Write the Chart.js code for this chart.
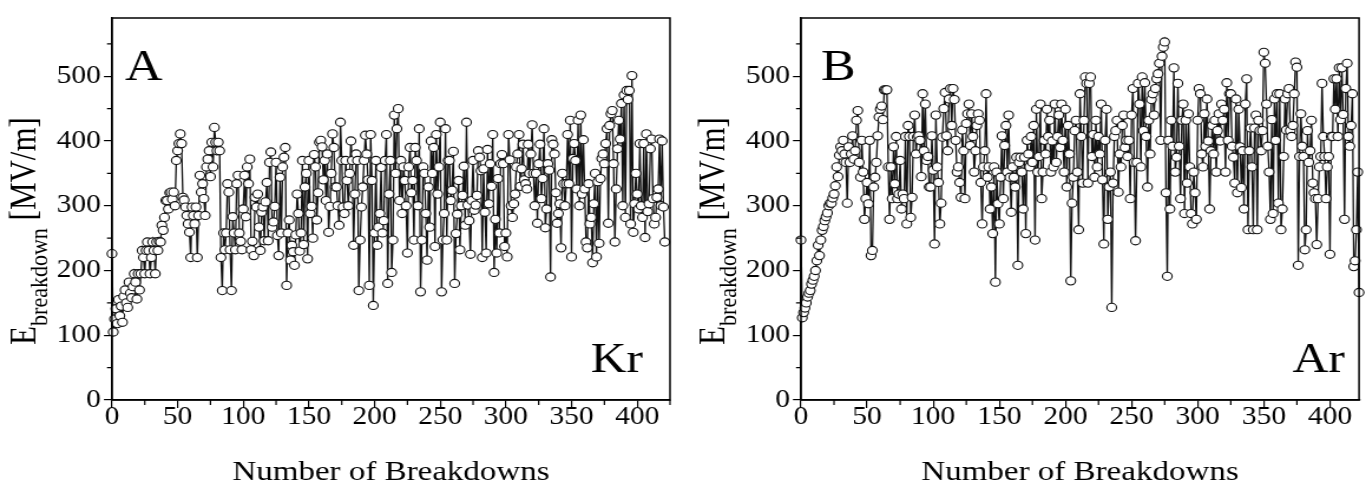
<!DOCTYPE html>
<html>
<head>
<meta charset="utf-8">
<script src="https://cdn.jsdelivr.net/npm/chart.js@4.4.1/dist/chart.umd.min.js"></script>
<style>
  html, body { margin: 0; padding: 0; background: #fff; }
  body { width: 1366px; height: 491px; position: relative; overflow: hidden; }
  .panel { position: absolute; top: 0; width: 579px; height: 491px; transform: scaleX(1.17962); transform-origin: 0 0; }
  #panelA { left: 0; }
  #panelB { left: 683px; }
</style>
</head>
<body>
<div class="panel" id="panelA"><canvas id="chartA"></canvas></div>
<div class="panel" id="panelB"><canvas id="chartB"></canvas></div>
<script>
// breakdown field per breakdown number (index = breakdown number)
const krValues = [
  226,105,125,141,118,155,130,145,120,160,
  170,150,143,182,165,158,175,195,182,156,
  195,170,195,231,220,195,231,244,231,195,
  220,244,231,195,244,231,245,244,270,262,
  282,308,308,295,320,321,310,321,300,370,
  385,396,411,396,313,309,298,285,272,259,
  220,298,285,272,298,220,285,347,321,334,
  311,285,360,372,385,345,398,360,421,398,385,
  398,385,220,169,258,232,258,334,321,232,
  169,283,258,232,334,347,258,245,232,295,
  347,283,360,334,372,232,245,223,313,298,
  318,267,231,290,298,246,306,336,246,367,
  383,267,275,299,367,254,223,344,258,360,
  375,390,177,258,278,216,239,229,208,255,
  318,288,230,258,370,240,329,350,218,370,
  288,299,250,379,360,278,320,398,401,391,
  340,370,308,380,259,299,350,411,390,329,
  329,300,270,429,370,298,288,370,339,300,
  350,400,370,239,318,380,370,169,247,298,
  329,370,409,380,340,177,410,339,146,258,
  370,239,267,288,359,258,277,370,410,180,
  318,370,197,247,440,350,419,450,308,370,
  288,360,339,300,227,360,390,320,339,247,
  390,370,300,419,167,247,360,350,288,216,
  329,267,400,350,390,237,410,318,360,429,
  167,247,288,419,247,370,
  370,308,324,384,180,257,287,339,232,300,
  316,361,270,429,301,277,225,308,370,293,
  301,316,385,375,354,220,357,290,227,387,
  303,365,330,410,197,279,227,342,258,365,
  379,365,237,258,221,410,371,300,282,303,
  318,360,380,410,330,357,395,340,334,326,
  395,350,380,425,350,300,350,273,365,395,
  311,342,419,266,295,365,355,190,402,395,
  380,320,273,288,303,235,
  350,334,300,334,410,334,432,221,373,396,
  370,326,432,300,440,318,402,326,244,235,
  334,272,282,212,303,350,221,337,242,342,
  373,380,365,396,419,273,424,442,447,365,
  244,326,388,432,403,458,300,471,282,478,
  464,478,272,501,259,303,350,318,295,396,
  300,282,396,251,411,291,303,388,403,311,
  272,282,313,326,403,300,400,298,244
];

const arValues = [
  247,127,135,142,150,159,165,169,179,185,
  191,200,215,239,223,247,262,268,277,283,
  289,300,304,304,312,318,331,360,345,378,
  391,385,401,380,367,304,391,367,380,408,
  372,385,432,447,367,344,401,352,279,311,
  336,303,401,223,231,329,344,367,408,437,
  449,454,433,479,479,479,360,279,360,311,
  391,334,407,311,318,370,295,318,311,407,
  272,424,407,282,313,407,
  440,380,406,408,401,345,473,385,457,370,
  376,329,329,408,355,241,440,360,336,272,
  304,406,450,475,408,385,465,481,424,481,
  464,401,352,360,336,313,417,385,311,427,
  442,457,393,442,407,352,385,424,442,432,
  336,272,360,385,473,344,360,295,329,257,
  360,182,352,303,272,344,408,311,393,424,
  352,440,344,290,360,344,329,375,208,367,
  375,352,295,375,257,
  401,380,360,407,367,424,247,449,352,376,
  457,311,352,401,380,449,407,432,352,400,
  360,457,367,407,440,390,457,401,352,449,
  329,424,380,184,304,344,416,432,352,263,
  473,407,335,432,499,489,335,489,499,376,
  410,344,432,360,407,380,457,340,241,401,
  449,279,329,352,143,335,407,416,432,321,
  380,360,424,440,390,401,376,401,311,440,
  481,367,246,367,489,457,
  360,499,416,490,407,329,432,380,464,473,
  440,481,496,504,520,401,531,545,553,320,
  191,401,295,432,392,513,352,375,489,392,
  311,432,457,288,432,335,442,360,288,272,
  352,320,279,432,481,473,380,360,442,392,
  465,400,295,385,424,380,432,352,416,442,
  400,457,432,449,352,490,401,473,473,392,
  375,335,465,320,449,391,328,385,295,457,
  496,263,385,420,360,
  263,420,440,263,432,416,385,416,537,520,
  457,392,352,279,433,288,465,401,473,304,
  473,263,295,376,465,417,473,481,416,407,
  424,473,522,514,208,376,442,392,376,232,
  263,416,367,385,432,335,320,311,240,311,
  360,376,489,407,376,311,360,376,225,407,
  407,496,449,496,407,513,433,513,441,279,
  481,520,407,392,424,473,206,215,263,352,
  166
];

const xTickValues = [0, 50, 100, 150, 200, 250, 300, 350, 400];
const yTickValues = [0, 100, 200, 300, 400, 500];

const serif = '"Liberation Serif", "Times New Roman", serif';
const tickFont = { family: serif, size: 25, lineHeight: 1 };

function decorPlugin(letter, letterOffset, gas, gasOffset) {
    return {
        id: 'decor',
        afterDraw(chart) {
            const ctx = chart.ctx;
            const a = chart.chartArea;
            const x = chart.scales.x;
            const y = chart.scales.y;
            ctx.save();
            ctx.strokeStyle = '#000';
            ctx.lineWidth = 1.5;
            ctx.strokeRect(a.left, a.top, a.right - a.left, a.bottom - a.top);

            // minor ticks
            ctx.lineWidth = 1.2;
            ctx.beginPath();
            for (let v = 25; v <= x.max + 0.5; v += 50) {
                const p = x.getPixelForValue(v);
                ctx.moveTo(p, a.bottom);
                ctx.lineTo(p, a.bottom + 5);
            }
            for (let v = 50; v < y.max; v += 100) {
                const p = y.getPixelForValue(v);
                ctx.moveTo(a.left, p);
                ctx.lineTo(a.left - 4.2, p);
            }
            ctx.stroke();

            ctx.fillStyle = '#000';
            ctx.textBaseline = 'alphabetic';

            ctx.font = '28px ' + serif;
            ctx.textAlign = 'center';
            ctx.fillText('Number of Breakdowns', (a.left + a.right) / 2, 480);

            ctx.font = '44px ' + serif;
            ctx.textAlign = 'left';
            ctx.fillText(letter, a.left + letterOffset, 80);
            ctx.font = '42px ' + serif;
            ctx.textAlign = 'right';
            ctx.fillText(gas, a.right - gasOffset, 372);

            // y title with subscript, rotated
            ctx.translate(a.left - 65, 231);
            ctx.rotate(-Math.PI / 2);
            const big = '31px ' + serif;
            const small = '22px ' + serif;
            ctx.font = big;
            const wE = ctx.measureText('E').width;
            const wUnit = ctx.measureText(' [MV/m]').width;
            ctx.font = small;
            const wSub = ctx.measureText('breakdown').width;
            let cx = -(wE + wSub + wUnit) / 2;
            ctx.textAlign = 'left';
            ctx.font = big;
            ctx.fillText('E', cx, 0);
            cx += wE;
            ctx.font = small;
            ctx.fillText('breakdown', cx, 10);
            cx += wSub;
            ctx.font = big;
            ctx.fillText(' [MV/m]', cx, 0);
            ctx.restore();
        }
    };
}

function makeChart(canvasId, values, xMax, axisLeft, padRight, decor) {
    const points = values.map((v, i) => ({ x: i, y: v }));
    return new Chart(document.getElementById(canvasId), {
        type: 'line',
        data: {
            datasets: [{
                data: points,
                borderColor: '#111',
                borderWidth: 1.3,
                tension: 0,
                pointRadius: 4.1,
                pointBorderWidth: 1.1,
                pointBackgroundColor: '#fff',
                pointBorderColor: '#111',
                clip: 6
            }]
        },
        options: {
            responsive: true,
            maintainAspectRatio: false,
            animation: false,
            devicePixelRatio: 1,
            events: [],
            layout: { autoPadding: false, padding: { left: 0, right: padRight, top: 18, bottom: 0 } },
            plugins: { legend: { display: false }, tooltip: { enabled: false } },
            scales: {
                x: {
                    type: 'linear',
                    min: 0,
                    max: xMax,
                    afterBuildTicks: s => { s.ticks = xTickValues.map(v => ({ value: v })); },
                    afterFit: s => { s.height = 91; },
                    ticks: { font: tickFont, color: '#000', padding: -3, maxRotation: 0, autoSkip: false },
                    grid: { drawOnChartArea: false, color: '#000', tickLength: 8, lineWidth: 1.2 },
                    border: { color: '#000', width: 1.5 }
                },
                y: {
                    type: 'linear',
                    min: 0,
                    max: 590,
                    afterBuildTicks: s => { s.ticks = yTickValues.map(v => ({ value: v })); },
                    afterFit: s => { s.width = axisLeft; },
                    ticks: { font: tickFont, color: '#000', padding: 2.5 },
                    grid: { drawOnChartArea: false, color: '#000', tickLength: 6.8, lineWidth: 1.2 },
                    border: { color: '#000', width: 1.5 }
                }
            }
        },
        plugins: [decor]
    });
}

makeChart('chartA', krValues, 425, 94.9, 11.0, decorPlugin('A', 11, 'Kr', 23));
makeChart('chartB', arValues, 422, 100.0, 5.9, decorPlugin('B', 17, 'Ar', 12));
</script>
</body>
</html>
